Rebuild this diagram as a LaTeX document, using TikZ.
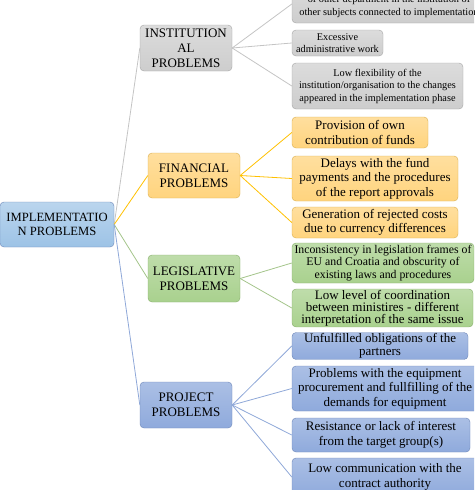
\documentclass[tikz,border=0pt]{standalone}
\usepackage{fontspec}
\setmainfont{Liberation Serif}
\usepackage{xcolor}
\usepackage{tikz}
\usetikzlibrary{positioning}
\definecolor{pgray}{HTML}{CDCDCD}
\definecolor{pgraydark}{HTML}{A5A5A5}
\definecolor{pyellow}{HTML}{FFD47E}
\definecolor{pyellowdark}{HTML}{D9AE4E}
\definecolor{pgreen}{HTML}{A9D18E}
\definecolor{pgreendark}{HTML}{87AD6B}
\definecolor{pblue}{HTML}{8FAADC}
\definecolor{pbluedark}{HTML}{6C86B8}
\definecolor{prootblue}{HTML}{9DC3E6}
\definecolor{lgray}{HTML}{C4C4C4}
\definecolor{lyellow}{HTML}{FFC000}
\definecolor{lgreen}{HTML}{A3C48A}
\definecolor{lblue}{HTML}{8FA8D8}

\begin{document}
\begin{tikzpicture}[
  x=1pt, y=-1pt,
  pbox/.style={
    rectangle, rounded corners=4pt, align=center, inner sep=1pt
  },
  catfont/.style={font=\fontsize{13}{15}\selectfont},
  leaffont/.style={font=\fontsize{13}{14.5}\selectfont},
  smallfont/.style={font=\fontsize{10.3}{12.5}\selectfont},
  graybox/.style={pbox, draw=pgraydark, top color=pgray!70, bottom color=pgray},
  yellowbox/.style={pbox, draw=pyellowdark, top color=pyellow!75, bottom color=pyellow},
  greenbox/.style={pbox, draw=pgreendark, top color=pgreen!75, bottom color=pgreen},
  bluebox/.style={pbox, draw=pbluedark, top color=pblue!75, bottom color=pblue},
  link/.style={line width=0.8pt},
]
\useasboundingbox (0,0) rectangle (474,490);
\clip (0,0) rectangle (474,490);

% main node
\node[pbox, draw=pbluedark, top color=prootblue!70, bottom color=prootblue,
  minimum width=114, minimum height=45, font=\fontsize{12.6}{14.5}\selectfont]
  (root) at (57,224.5) {IMPLEMENTATIO\\N PROBLEMS};

% groups
\node[graybox, catfont, minimum width=92, minimum height=46] (inst) at (186,48)
  {INSTITUTION\\AL\\PROBLEMS};
\node[yellowbox, catfont, minimum width=92, minimum height=45] (fin) at (194,175.5)
  {FINANCIAL\\PROBLEMS};
\node[greenbox, catfont, minimum width=92, minimum height=47] (leg) at (194,278.5)
  {LEGISLATIVE\\PROBLEMS};
\node[bluebox, catfont, minimum width=92, minimum height=46] (proj) at (186,405)
  {PROJECT\\PROBLEMS};

% institutional problems
\node[graybox, smallfont, minimum width=194, minimum height=38] (i1) at (389,4)
  {\mbox{}\\of other department in the institution of\\other subjects connected to implementation};
\node[graybox, smallfont, minimum width=91, minimum height=26] (i2) at (337.5,43)
  {Excessive\\administrative work};
\node[graybox, smallfont, minimum width=171, minimum height=46] (i3) at (377.5,86)
  {Low flexibility of the\\institution/organisation to the changes\\appeared in the implementation phase};

% financial problems
\node[yellowbox, leaffont, minimum width=136, minimum height=31] (f1) at (360,132.5)
  {Provision of own\\contribution of funds};
\node[yellowbox, leaffont, minimum width=166, minimum height=45] (f2) at (375,178.5)
  {Delays with the fund\\payments and the procedures\\of the report approvals};
\node[yellowbox, leaffont, minimum width=166, minimum height=31] (f3) at (375,222.5)
  {Generation of rejected costs\\due to currency differences};

% legislative problems
\node[greenbox, font=\fontsize{11.8}{12.8}\selectfont, minimum width=182, minimum height=40] (l1) at (383,263)
  {Inconsistency in legislation frames of\\EU and Croatia and obscurity of\\existing laws and procedures};
\node[greenbox, font=\fontsize{13}{12}\selectfont, minimum width=181, minimum height=36] (l2) at (382.5,308)
  {Low level of coordination\\between ministires - different\\interpretation of the same issue};

% project problems
\node[bluebox, font=\fontsize{13}{13}\selectfont, minimum width=176, minimum height=26] (p1) at (380,346)
  {Unfulfilled obligations of the\\partners};
\node[bluebox, leaffont, minimum width=186, minimum height=45] (p2) at (385,388.5)
  {Problems with the equipment\\procurement and fullfilling of the\\demands for equipment};
\node[bluebox, leaffont, minimum width=178, minimum height=34] (p3) at (381,435)
  {Resistance or lack of interest\\from the target group(s)};
\node[bluebox, leaffont, minimum width=186, minimum height=38] (p4) at (385,477)
  {Low communication with the\\contract authority};

% connectors
\foreach \g/\c in {inst/lgray, fin/lyellow, leg/lgreen, proj/lblue} {
  \draw[link, draw=\c] (root.east) -- (\g.west);
}
\foreach \k in {i1, i2, i3} {
  \draw[link, draw=lgray] (inst.east) -- (\k.west);
}
\foreach \k in {f1, f2, f3} {
  \draw[link, draw=lyellow] (fin.east) -- (\k.west);
}
\foreach \k in {l1, l2} {
  \draw[link, draw=lgreen] (leg.east) -- (\k.west);
}
\foreach \k in {p1, p2, p3, p4} {
  \draw[link, draw=lblue] (proj.east) -- (\k.west);
}
\end{tikzpicture}
\end{document}
